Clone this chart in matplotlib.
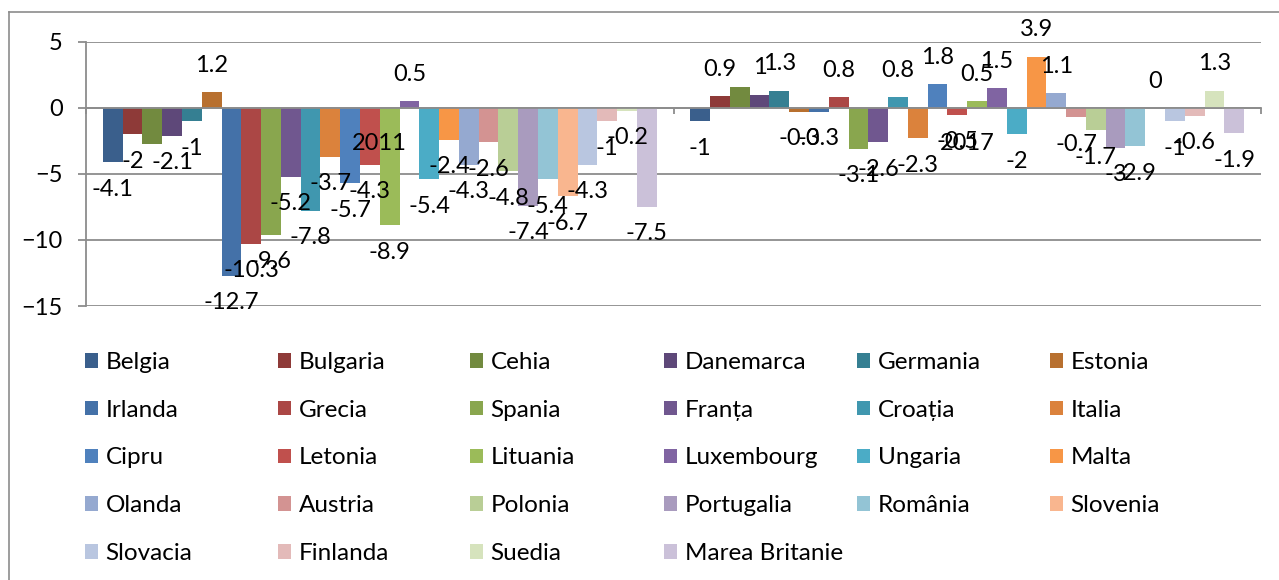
import numpy as np
import matplotlib.pyplot as plt
from matplotlib.lines import Line2D

# Solduri bugetare (% din PIB), 2011 si 2017
countries = ["Belgia", "Bulgaria", "Cehia", "Danemarca", "Germania", "Estonia",
             "Irlanda", "Grecia", "Spania", "Franța", "Croația", "Italia",
             "Cipru", "Letonia", "Lituania", "Luxembourg", "Ungaria", "Malta",
             "Olanda", "Austria", "Polonia", "Portugalia", "România", "Slovenia",
             "Slovacia", "Finlanda", "Suedia", "Marea Britanie"]
years = ["2011", "2017"]
deficit_2011 = [-4.1, -2, -2.7, -2.1, -1, 1.2,
                -12.7, -10.3, -9.6, -5.2, -7.8, -3.7,
                -5.7, -4.3, -8.9, 0.5, -5.4, -2.4,
                -4.3, -2.6, -4.8, -7.4, -5.4, -6.7,
                -4.3, -1, -0.2, -7.5]
deficit_2017 = [-1, 0.9, 1.6, 1, 1.3, -0.3,
                -0.3, 0.8, -3.1, -2.6, 0.8, -2.3,
                1.8, -0.5, 0.5, 1.5, -2, 3.9,
                1.1, -0.7, -1.7, -3, -2.9, 0,
                -1, -0.6, 1.3, -1.9]
# Cehia has no data labels in the original
no_label = ["Cehia"]

colors = ["#3A5F8C", "#8E3A38", "#728A3F", "#5E4879", "#357F92", "#B8702F",
          "#4471A8", "#AB4745", "#89A64E", "#70578F", "#4097AF", "#DB823C",
          "#4F81BD", "#C0504D", "#9BBB59", "#8064A2", "#4BACC6", "#F79646",
          "#95A9D0", "#D39392", "#B9CE96", "#A99BBE", "#93C4D5", "#F9B68F",
          "#B9C6E0", "#E3BAB9", "#D6E3BD", "#CBC1D9"]
gray = "#8C8C8C"

plt.rcParams['font.family'] = ['Lato', 'DejaVu Sans']

W, H = 1279, 580
fig = plt.figure(figsize=(W / 100, H / 100), dpi=100)
ax = fig.add_axes([86 / W, 1 - 306 / H, (1261 - 86) / W, 264 / H])

n = len(countries)
w = 1 / (n + 1.7)
group_x = np.arange(len(years))
handles = []
for i, c in enumerate(countries):
    vals = [deficit_2011[i], deficit_2017[i]]
    xs = group_x + (i - (n - 1) / 2) * w
    bars = ax.bar(xs, vals, w, color=colors[i], label=c, zorder=2)
    handles.append(bars)
    if c in no_label:
        continue
    for b, v in zip(bars, vals):
        off = 27 if v >= 0 else -27
        ax.annotate(f"{v:g}", (b.get_x() + b.get_width() / 2, v),
                    xytext=(0, off), textcoords='offset pixels',
                    ha='center', va='center', fontsize=17, zorder=4)

ax.set_xlim(-0.5, 1.5)
ax.set_ylim(-15, 5)
ax.set_yticks([5, 0, -5, -10, -15])
ax.yaxis.grid(True, color=gray, lw=1.3)
ax.set_axisbelow(True)
ax.xaxis.set_zorder(5)

for s in ['top', 'right']:
    ax.spines[s].set_visible(False)
ax.spines['bottom'].set_position(('data', 0))
ax.spines['bottom'].set_color(gray)
ax.spines['bottom'].set_linewidth(1.3)
ax.spines['left'].set_color(gray)
ax.spines['left'].set_linewidth(1.3)

ax.set_xticks([-0.5, 0.5, 1.5])
ax.set_xticklabels([])
ax.set_xticks(group_x, labels=years, minor=True)
ax.tick_params(axis='x', which='major', direction='out', length=4.5, width=1.3, color=gray)
ax.tick_params(axis='x', which='minor', length=0, pad=18, labelsize=17)
ax.tick_params(axis='y', direction='out', length=5.8, width=1.3, color=gray,
               pad=11, labelsize=17)

# legend: 6 columns, one legend each so the columns are evenly spaced
col_x = [85, 278, 470, 664, 857, 1050]
for j, x in enumerate(col_x):
    fig.legend(handles=handles[j::6], labels=countries[j::6],
               loc='upper left', bbox_to_anchor=(x / W, 1 - 352 / H),
               frameon=False, borderpad=0, borderaxespad=0,
               handlelength=0.55, handleheight=0.55, handletextpad=0.3,
               labelspacing=1.1, fontsize=17.5)

# chart area border
fig.add_artist(Line2D([9 / W, 9 / W], [0, 1 - 12 / H], color=gray, lw=1.2,
                      transform=fig.transFigure))
fig.add_artist(Line2D([9 / W, 1], [1 - 12 / H, 1 - 12 / H], color=gray, lw=1.2,
                      transform=fig.transFigure))

plt.savefig("out.png", dpi=100)
